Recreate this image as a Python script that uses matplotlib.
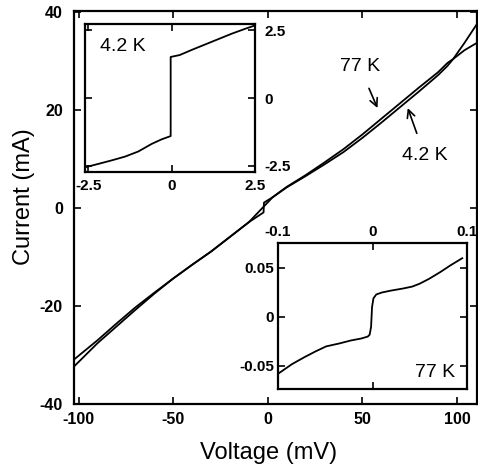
import numpy as np
import matplotlib
matplotlib.use("Agg")
import matplotlib.pyplot as plt

plt.rcParams['font.family'] = ['Liberation Sans', 'DejaVu Sans']
plt.rcParams['axes.unicode_minus'] = False

# main I-V curves (voltage mV, current mA)
v42 = [-102, -90, -80, -70, -60, -50, -40, -30, -20, -10, -2.2, -2.0, 2.6, 10, 20, 30, 40,
       50, 60, 70, 80, 90, 95, 98, 104, 111]
i42 = [-32.2, -27.6, -24.2, -20.8, -17.5, -14.4, -11.6, -8.9, -5.9, -2.9, -0.9, 1.1, 2.2, 4.2,
       6.5, 8.9, 11.4, 14.3, 17.4, 20.6, 23.8, 27.1, 29.0, 30.4, 33.7, 37.8]
v77 = [-102, -90, -80, -70, -60, -50, -40, -30, -20, -10, 2.6, 10, 20, 30, 40, 50, 60, 70,
       80, 90, 95, 98, 104, 111]
i77 = [-30.8, -27.0, -23.6, -20.3, -17.3, -14.4, -11.6, -8.9, -5.9, -2.9, 2.2, 4.3, 6.7, 9.3,
       12.0, 15.0, 18.2, 21.4, 24.6, 27.7, 29.6, 30.4, 32.2, 33.8]

# inset 4.2 K
x_in1 = [-2.58, -2.2, -1.8, -1.4, -1.0, -0.6, -0.3, -0.03, -0.03, 0.24, 0.6, 1.0, 1.4, 1.8,
         2.2, 2.46]
y_in1 = [-2.56, -2.44, -2.31, -2.17, -1.98, -1.70, -1.53, -1.41, 1.52, 1.59, 1.78, 1.98, 2.18,
         2.38, 2.56, 2.67]

# inset 77 K
x_in2 = [-0.1, -0.085, -0.072, -0.06, -0.049, -0.035, -0.023, -0.012, -0.005, -0.003, -0.0015,
         -0.0005, 0.001, 0.004, 0.01, 0.02, 0.032, 0.042, 0.05, 0.06, 0.072, 0.083, 0.095]
y_in2 = [-0.058, -0.048, -0.041, -0.035, -0.030, -0.027, -0.024, -0.022, -0.020, -0.018,
         -0.010, 0.010, 0.019, 0.023, 0.025, 0.027, 0.029, 0.031, 0.034, 0.039, 0.046, 0.053,
         0.060]

main_xticks = [-100, -50, 0, 50, 100]
main_yticks = [-40, -20, 0, 20, 40]


def bold_ticks(a):
    for lab in a.get_xticklabels() + a.get_yticklabels():
        lab.set_fontweight('bold')


fig = plt.figure(figsize=(4.78, 4.68), dpi=100)
ax = fig.add_axes([74/478, 1-404/468, 403/478, 393/468])
ax.plot(v42, i42, color='black', lw=1.3)
ax.plot(v77, i77, color='black', lw=1.3)
ax.set_xlim(-102.4, 110.6)
ax.set_ylim(-39.6, 40.2)
ax.set_xticks(main_xticks)
ax.set_yticks(main_yticks)
ax.tick_params(direction='in', length=5, width=1.2, labelsize=11.5, top=True, right=True)
ax.tick_params(axis='y', pad=8)
ax.tick_params(axis='x', pad=6)
bold_ticks(ax)
for s in ax.spines.values():
    s.set_linewidth(1.6)

ax.annotate('77 K', xy=(58, 20.4), xytext=(48.6, 28.8), ha='center', va='center', fontsize=14,
            arrowprops=dict(arrowstyle='->', color='black', lw=1.2, shrinkA=8, shrinkB=0))
ax.annotate('4.2 K', xy=(74, 20.4), xytext=(82.9, 10.8), ha='center', va='center', fontsize=14,
            arrowprops=dict(arrowstyle='->', color='black', lw=1.2, shrinkA=8, shrinkB=0))

fig.text(269/478, 1-453/468, 'Voltage (mV)', ha='center', va='center', fontsize=17)
fig.text(24/478, 1-197/468, 'Current (mA)', ha='center', va='center', fontsize=17, rotation=90)

# inset 1
a1 = fig.add_axes([85/478, 1-172/468, 170/478, 148/468])
a1.plot(x_in1, y_in1, color='black', lw=1.3)
a1.set_xlim(-2.6, 2.5)
a1.set_ylim(-2.74, 2.74)
a1.set_xticks([-2.5, 0, 2.5])
a1.set_xticklabels(['-2.5', '0', '2.5'])
a1.set_yticks([-2.5, 0, 2.5])
a1.set_yticklabels(['-2.5', '0', '2.5'])
a1.yaxis.tick_right()
a1.tick_params(direction='in', length=5, width=1.2, labelsize=11, top=True, left=True, right=True)
a1.tick_params(axis='x', pad=5)
a1.tick_params(axis='y', pad=7)
bold_ticks(a1)
a1.text(0.224, 0.851, '4.2 K', transform=a1.transAxes, ha='center', va='center', fontsize=14)
for s in a1.spines.values():
    s.set_linewidth(1.6)

# inset 2
a2 = fig.add_axes([278/478, 1-389/468, 189/478, 146/468])
a2.plot(x_in2, y_in2, color='black', lw=1.3)
a2.set_xlim(-0.1, 0.1)
a2.set_ylim(-0.0735, 0.0755)
a2.set_xticks([-0.1, 0, 0.1])
a2.set_xticklabels(['-0.1', '0', '0.1'])
a2.set_yticks([-0.05, 0, 0.05])
a2.set_yticklabels(['-0.05', '0', '0.05'])
a2.xaxis.tick_top()
a2.tick_params(direction='in', length=5, width=1.2, labelsize=11, top=True, bottom=True,
               left=True, right=True)
a2.tick_params(axis='x', pad=3)
a2.tick_params(axis='y', pad=3)
bold_ticks(a2)
a2.text(0.937, 0.116, '77 K', transform=a2.transAxes, ha='right', va='center', fontsize=14)
for s in a2.spines.values():
    s.set_linewidth(1.6)

fig.savefig('out.png', dpi=100)
